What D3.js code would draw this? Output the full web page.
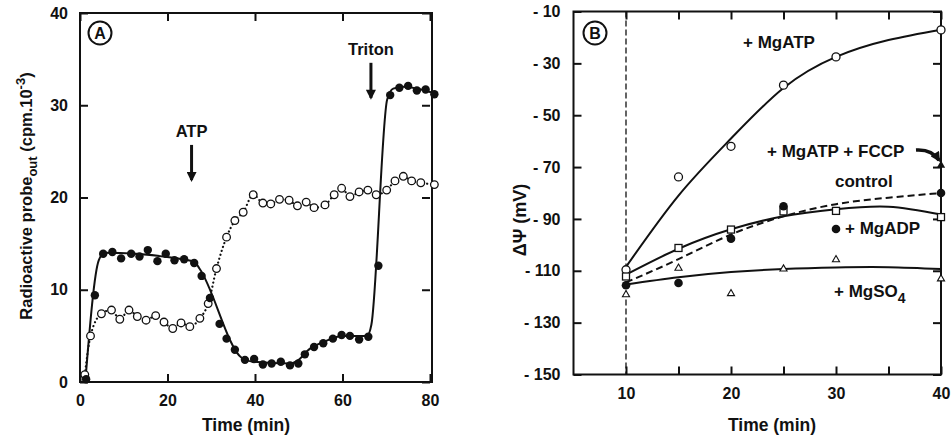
<!DOCTYPE html>
<html>
<head>
<meta charset="utf-8">
<script src="https://cdn.jsdelivr.net/npm/d3@7"></script>
<style>
  body { margin: 0; background: #fff; }
  svg { font-family: 'Liberation Sans', Arial, sans-serif; font-weight: bold; }
  .tick text { font-size: 16px; font-weight: bold; fill: #111; }
  .tick line { stroke: #111; stroke-width: 2; }
</style>
</head>
<body>
<svg id="chart"></svg>
<script>
// ---- panel A: probe release (cpm x 10^3) vs time (min)
const timeFilled = [1.4, 3.4, 5.3, 7.4, 9.4, 11.7, 13.6, 15.5, 17.7, 19.6, 21.6, 23.8, 26.1, 27.8, 29.7, 31.9, 33.5, 35.4, 37.7, 39.8,
  41.8, 43.8, 45.9, 48.0, 49.9, 51.4, 53.5, 55.6, 57.8, 59.8, 61.7, 63.8, 65.9, 68.2, 70.9, 73.0, 75.0, 77.0, 79.0, 81.0];
const probeFilled = [0.3, 9.4, 13.9, 14.1, 13.4, 13.9, 13.6, 14.3, 13.1, 13.9, 13.2, 13.3, 12.9, 11.5, 9.1, 6.3, 4.7, 3.5, 2.4, 2.5,
  1.9, 2.0, 2.2, 1.8, 2.0, 3.0, 3.8, 4.2, 4.7, 5.1, 5.0, 4.6, 4.9, 12.6, 31.1, 31.9, 32.1, 31.6, 31.7, 31.2];
const timeOpen = [1.1, 2.4, 4.9, 7.2, 9.1, 11.2, 13.1, 15.1, 17.3, 19.2, 21.2, 23.1, 25.1, 27.4, 29.3, 31.2, 33.5, 35.4, 37.3, 39.6,
  41.8, 43.6, 45.6, 47.8, 49.7, 51.7, 53.5, 56.0, 58.1, 59.8, 61.7, 63.8, 65.8, 67.7, 70.1, 72.0, 73.9, 75.8, 77.9, 81.0];
const probeOpen = [0.8, 5.0, 7.4, 7.8, 6.8, 7.8, 7.1, 6.7, 7.2, 6.5, 5.8, 6.4, 6.0, 6.9, 8.5, 12.3, 15.7, 17.5, 18.4, 20.3,
  19.4, 19.3, 19.8, 19.7, 19.1, 19.5, 18.9, 19.2, 20.3, 21.0, 20.1, 20.6, 20.8, 20.3, 20.8, 21.8, 22.3, 21.8, 21.6, 21.4];
// hand-drawn fit through the filled points
const fitFilledTime = [1.2, 4.3, 5.6, 26, 27.3, 37, 39.5, 48, 50, 52, 56, 60, 65.6, 66.6, 70.2, 71.6, 74, 81];
const fitFilledProbe = [0, 13.2, 14.0, 13.1, 12.3, 2.6, 2.2, 2.0, 2.4, 3.4, 4.4, 5.0, 5.0, 6.2, 30.6, 31.8, 32.0, 31.3];
const additionsA = [{ label: 'ATP', t: 25.5, top: 25.7, tip: 21.9 }, { label: 'Triton', t: 66.5, top: 34.6, tip: 30.8 }];

// ---- panel B: membrane potential (mV) vs time (min)
const timeB = [10, 15, 20, 25, 30, 40];
const psiMgATP = [-109.6, -73.8, -62.0, -38.4, -27.5, -17.1];
const psiSquare = [-112.2, -101.2, -94.1, -87.1, -86.9, -89.3];
const psiTriangle = [-119.2, -109.0, -118.8, -109.3, -105.7, -113.1];
const timeFilledB = [10, 15, 20, 25, 40];
const psiFilledB = [-115.6, -114.7, -97.6, -85.1, -80.0];
const fccpPoint = [40, -69.3];
const fitTime = [10, 15, 20, 25, 30, 35, 40];
const fitMgATP = [-108.5, -81, -59, -39.5, -27.5, -21, -17];
const fitSquare = [-111.5, -101.5, -94, -89, -86.3, -85.3, -88.3];
const fitControl = [-114.5, -105.5, -96, -89, -84.3, -81.8, -80];
const fitMgSO4 = [-115.3, -112.5, -110.5, -109.3, -108.7, -108.6, -109.3];

const zip = (a, b) => a.map((d, i) => [d, b[i]]);

const svg = d3.select('#chart').attr('width', 952).attr('height', 441);

const defs = svg.append('defs');
defs.append('marker')
  .attr('id', 'head')
  .attr('viewBox', '0 0 10 10')
  .attr('refX', 8).attr('refY', 5)
  .attr('markerUnits', 'userSpaceOnUse')
  .attr('markerWidth', 11).attr('markerHeight', 10)
  .attr('orient', 'auto')
  .append('path').attr('d', 'M0,0L10,5L0,10Z').attr('fill', '#111');

function drawFrame(x, y) {
  const [x0, x1] = x.range();
  const [y0, y1] = y.range();
  svg.append('rect')
    .attr('x', x0).attr('y', y1)
    .attr('width', x1 - x0).attr('height', y0 - y1)
    .attr('fill', 'none').attr('stroke', '#111').attr('stroke-width', 2);
}

function drawAxes(x, y, xTicks, yTicks, xFmt, yFmt, xPad, yPad) {
  const [x0, x1] = x.range();
  const [y0, y1] = y.range();
  const put = (axis, tx, ty) => {
    const g = svg.append('g').attr('transform', `translate(${tx},${ty})`).call(axis);
    g.select('.domain').remove();
    return g;
  };
  put(d3.axisBottom(x).tickValues(xTicks).tickSize(-8).tickPadding(xPad).tickFormat(xFmt), 0, y0);
  put(d3.axisTop(x).tickValues(xTicks).tickSize(-8).tickFormat(''), 0, y1);
  put(d3.axisLeft(y).tickValues(yTicks).tickSize(-8).tickPadding(yPad).tickFormat(yFmt), x0, 0);
  put(d3.axisRight(y).tickValues(yTicks).tickSize(-8).tickFormat(''), x1, 0);
}

function panelBadge(cx, cy, letter) {
  svg.append('circle').attr('cx', cx).attr('cy', cy).attr('r', 11.5)
    .attr('fill', 'none').attr('stroke', '#111').attr('stroke-width', 2);
  svg.append('text').attr('x', cx).attr('y', cy + 6).attr('text-anchor', 'middle')
    .attr('font-size', 16).attr('fill', '#111').text(letter);
}

// ================= panel A =================
const xA = d3.scaleLinear().domain([0, 80]).range([80, 430]);
const yA = d3.scaleLinear().domain([0, 40]).range([382, 13]);
const xA_frame = d3.scaleLinear().domain([0, 80.5]).range([80, 432]);

drawFrame(xA_frame, yA);
drawAxes(xA, yA, [0, 20, 40, 60, 80], [0, 10, 20, 30, 40], d3.format('d'), d3.format('d'), 13, 12);

const lineA = d3.line().x(d => xA(d[0])).y(d => yA(d[1]));

svg.append('path')
  .datum(zip(timeOpen, probeOpen))
  .attr('d', lineA.curve(d3.curveMonotoneX))
  .attr('fill', 'none').attr('stroke', '#111').attr('stroke-width', 2.2)
  .attr('stroke-linecap', 'round').attr('stroke-dasharray', '0.1,4');

svg.append('path')
  .datum(zip(fitFilledTime, fitFilledProbe))
  .attr('d', lineA.curve(d3.curveMonotoneX))
  .attr('fill', 'none').attr('stroke', '#111').attr('stroke-width', 2);

svg.append('g').selectAll('circle')
  .data(zip(timeOpen, probeOpen))
  .join('circle')
  .attr('cx', d => xA(d[0])).attr('cy', d => yA(d[1])).attr('r', 3.8)
  .attr('fill', '#fff').attr('stroke', '#111').attr('stroke-width', 1.3);

svg.append('g').selectAll('circle')
  .data(zip(timeFilled, probeFilled))
  .join('circle')
  .attr('cx', d => xA(d[0])).attr('cy', d => yA(d[1])).attr('r', 4.2)
  .attr('fill', '#111');

additionsA.forEach(a => {
  svg.append('text').attr('x', xA(a.t)).attr('y', yA(a.top) - 8)
    .attr('text-anchor', 'middle').attr('font-size', 16.5).attr('fill', '#111').text(a.label);
  svg.append('line')
    .attr('x1', xA(a.t)).attr('x2', xA(a.t))
    .attr('y1', yA(a.top)).attr('y2', yA(a.tip))
    .attr('stroke', '#111').attr('stroke-width', 3).attr('marker-end', 'url(#head)');
});

panelBadge(100, 33, 'A');

svg.append('text')
  .attr('transform', 'translate(32,196) rotate(-90)')
  .attr('text-anchor', 'middle').attr('font-size', 16.5).attr('fill', '#111')
  .call(t => {
    t.append('tspan').text('Radioactive probe');
    t.append('tspan').attr('dy', 5).attr('font-size', 13).text('out');
    t.append('tspan').attr('dy', -5).text(' (cpm.10');
    t.append('tspan').attr('dy', -7).attr('font-size', 13).text('-3');
    t.append('tspan').attr('dy', 7).text(')');
  });

svg.append('text').attr('x', 246).attr('y', 431)
  .attr('text-anchor', 'middle').attr('font-size', 17.5).attr('fill', '#111').text('Time (min)');

// ================= panel B =================
const xB = d3.scaleLinear().domain([5, 40]).range([573.5, 941]);
const yB = d3.scaleLinear().domain([-150, -10]).range([374.5, 11.5]);

drawFrame(xB, yB);
drawAxes(xB, yB, [10, 15, 20, 25, 30, 35, 40], d3.range(-150, -9, 20),
  d => d % 10 === 0 ? d : '', d => '- ' + Math.abs(d), 13, 13);

svg.append('line')
  .attr('x1', xB(10)).attr('x2', xB(10))
  .attr('y1', yB(-10)).attr('y2', yB(-150))
  .attr('stroke', '#111').attr('stroke-width', 1.3).attr('stroke-dasharray', '6,3');

const lineB = d3.line().x(d => xB(d[0])).y(d => yB(d[1])).curve(d3.curveNatural);

[[fitMgATP, null], [fitSquare, null], [fitControl, '7,4'], [fitMgSO4, null]].forEach(([vals, dash]) => {
  svg.append('path')
    .datum(zip(fitTime, vals))
    .attr('d', lineB)
    .attr('fill', 'none').attr('stroke', '#111').attr('stroke-width', 2)
    .attr('stroke-dasharray', dash);
});

svg.append('g').selectAll('circle')
  .data(zip(timeB, psiMgATP))
  .join('circle')
  .attr('cx', d => xB(d[0])).attr('cy', d => yB(d[1])).attr('r', 4)
  .attr('fill', '#fff').attr('stroke', '#111').attr('stroke-width', 1.3);

svg.append('g').selectAll('rect')
  .data(zip(timeB, psiSquare))
  .join('rect')
  .attr('x', d => xB(d[0]) - 3.5).attr('y', d => yB(d[1]) - 3.5)
  .attr('width', 7).attr('height', 7)
  .attr('fill', '#fff').attr('stroke', '#111').attr('stroke-width', 1.3);

const tri = d3.symbol().type(d3.symbolTriangle).size(22);
svg.append('g').selectAll('path')
  .data(zip(timeB, psiTriangle))
  .join('path')
  .attr('transform', d => `translate(${xB(d[0])},${yB(d[1])})`)
  .attr('d', tri)
  .attr('fill', '#fff').attr('stroke', '#111').attr('stroke-width', 1.1);

svg.append('g').selectAll('circle')
  .data(zip(timeFilledB, psiFilledB))
  .join('circle')
  .attr('cx', d => xB(d[0])).attr('cy', d => yB(d[1])).attr('r', 4.3)
  .attr('fill', '#111');

svg.append('path')
  .attr('transform', `translate(${xB(fccpPoint[0])},${yB(fccpPoint[1])})`)
  .attr('d', d3.symbol().type(d3.symbolTriangle).size(30))
  .attr('fill', '#111');

// curve labels
const labB = (x, y, txt) => svg.append('text').attr('x', x).attr('y', y)
  .attr('font-size', 17).attr('fill', '#111').text(txt);
labB(743, 48, '+ MgATP');
labB(767, 157, '+ MgATP + FCCP');
labB(835, 187, 'control');
labB(845, 234, '+ MgADP');
svg.append('circle').attr('cx', xB(30)).attr('cy', 229).attr('r', 4.3).attr('fill', '#111');
labB(834, 297, '+ MgSO').call(t => t.append('tspan').attr('dy', 6).attr('font-size', 14).text('4'));

svg.append('path')
  .attr('d', `M916,150 Q932,149 ${xB(40) - 2},${yB(fccpPoint[1]) - 5}`)
  .attr('fill', 'none').attr('stroke', '#111').attr('stroke-width', 3.5)
  .attr('marker-end', 'url(#head)');

panelBadge(595, 33, 'B');

svg.append('text')
  .attr('transform', 'translate(526,220) rotate(-90)')
  .attr('text-anchor', 'middle').attr('font-size', 18).attr('fill', '#111')
  .text('ΔΨ (mV)');

svg.append('text').attr('x', 772).attr('y', 431)
  .attr('text-anchor', 'middle').attr('font-size', 17.5).attr('fill', '#111').text('Time (min)');
</script>
</body>
</html>
